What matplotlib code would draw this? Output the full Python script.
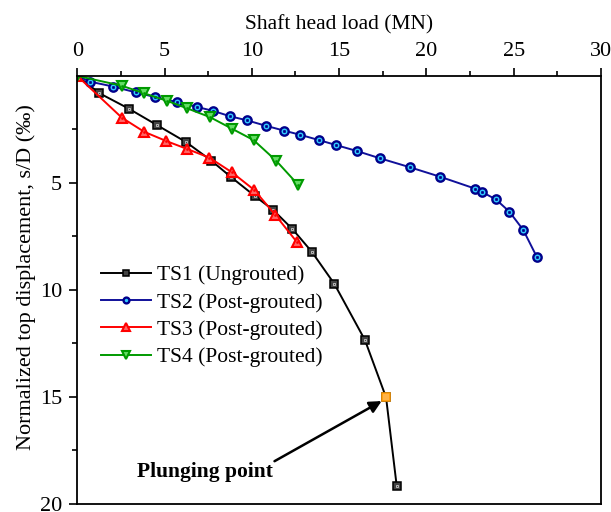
import matplotlib
matplotlib.use("Agg")
import matplotlib.pyplot as plt

plt.rcParams['font.family'] = ['Liberation Serif', 'DejaVu Serif']

ts1_x = [0, 1.27, 2.95, 4.59, 6.23, 7.68, 8.83, 10.17, 11.23, 12.32, 13.43, 14.73, 16.48, 17.69, 18.30]
ts1_y = [0, 0.81, 1.53, 2.31, 3.09, 3.96, 4.74, 5.61, 6.27, 7.15, 8.21, 9.72, 12.34, 15.02, 19.16]

ts2_x = [0, 0.73, 2.07, 3.35, 4.46, 5.70, 6.86, 7.80, 8.77, 9.74, 10.80, 11.86, 12.76, 13.85, 14.82,
         16.02, 17.34, 19.06, 20.78, 22.80, 23.20, 23.98, 24.75, 25.55, 26.32]
ts2_y = [0, 0.27, 0.50, 0.77, 0.99, 1.22, 1.45, 1.64, 1.89, 2.08, 2.33, 2.56, 2.75, 3.00, 3.23,
         3.51, 3.85, 4.27, 4.71, 5.27, 5.43, 5.77, 6.34, 7.20, 8.45]

ts3_x = [0, 2.55, 3.83, 5.09, 6.31, 7.57, 8.85, 10.14, 11.35, 12.57]
ts3_y = [0, 1.95, 2.61, 3.04, 3.42, 3.82, 4.50, 5.33, 6.50, 7.75]

ts4_x = [0, 2.55, 3.82, 5.12, 6.31, 7.61, 8.89, 10.10, 11.39, 12.67]
ts4_y = [0, 0.46, 0.81, 1.16, 1.52, 1.93, 2.48, 3.00, 3.96, 5.10]

labels = ["TS1 (Ungrouted)", "TS2 (Post-grouted)", "TS3 (Post-grouted)", "TS4 (Post-grouted)"]
plunge_x, plunge_y = 17.69, 15.02

fig = plt.figure(figsize=(6.11, 5.12), dpi=100)
ax = fig.add_axes([0.1264, 0.0156, 0.8572, 0.8362])

lw = 1.4
ax.plot(ts1_x, ts1_y, color='black', lw=lw, marker='s', ms=5.2, mfc='#444444', mec='black', mew=1.1,
        label=labels[0])
ax.plot(ts1_x, ts1_y, ls='none', marker='s', ms=2.0, mfc='none', mec='#cccccc', mew=0.6)

ax.plot(ts2_x, ts2_y, color='#10109a', lw=lw, marker='o', ms=6, mfc='#33ccff', mec='#00008b', mew=1.7,
        label=labels[1])
ax.plot(ts2_x, ts2_y, ls='none', marker='o', ms=1.8, mfc='#00008b', mec='#00008b', mew=0.4)

ax.plot(ts3_x, ts3_y, color='#ff0000', lw=lw, marker='^', ms=7.5, mfc='#ff6666', mec='#ff0000', mew=1.5,
        label=labels[2])
ax.plot(ts3_x, ts3_y, ls='none', marker='o', ms=1.5, mfc='#ff0000', mec='#ff0000', mew=0.4)

ax.plot(ts4_x, ts4_y, color='#009a00', lw=lw, marker='v', ms=7.5, mfc='#66dd66', mec='#009a00', mew=1.5,
        label=labels[3])
ax.plot(ts4_x, ts4_y, ls='none', marker='o', ms=1.5, mfc='#009a00', mec='#009a00', mew=0.4)

ax.plot([plunge_x], [plunge_y], ls='none', marker='s', ms=5.2, mfc='#ffb347', mec='#ff9900', mew=1.1, zorder=5)

ax.text(7.32, 18.5, "Plunging point", fontsize=15.5, fontweight='bold', ha='center', va='center')
ax.annotate("", xy=(17.44, 15.19), xytext=(11.30, 18.0),
            arrowprops=dict(arrowstyle='-|>', color='black', lw=1.8, mutation_scale=18,
                            shrinkA=0, shrinkB=0))

ax.set_xlim(0, 30)
ax.set_ylim(20, 0)
ax.xaxis.set_ticks_position('top')
ax.xaxis.set_label_position('top')
ax.set_xticks([0, 5, 10, 15, 20, 25, 30])
ax.set_xticks([2.5, 7.5, 12.5, 17.5, 22.5, 27.5], minor=True)
ax.set_yticks([5, 10, 15, 20])
ax.set_yticks([2.5, 7.5, 12.5, 17.5], minor=True)
ax.tick_params(axis='both', which='major', direction='out', length=6, width=1.2, labelsize=16, pad=5)
ax.tick_params(axis='both', which='minor', direction='out', length=3.5, width=1.2)
ax.tick_params(axis='x', top=True, bottom=False, which='both')
ax.tick_params(axis='y', left=True, right=False, which='both')
for s in ax.spines.values():
    s.set_linewidth(1.3)

ax.set_xlabel("Shaft head load (MN)", fontsize=15.5, labelpad=9)
ax.set_ylabel("Normalized top displacement, s/D (\u2030)", fontsize=16)
ax.yaxis.set_label_coords(-0.078, 0.53)

leg = ax.legend(loc='upper left', bbox_to_anchor=(0.045, 0.558), frameon=False, fontsize=15.5,
                handlelength=2.33, labelspacing=0.34, handletextpad=0.3, borderaxespad=0,
                borderpad=0, markerscale=0.7)

fig.savefig("out.png", dpi=100)
